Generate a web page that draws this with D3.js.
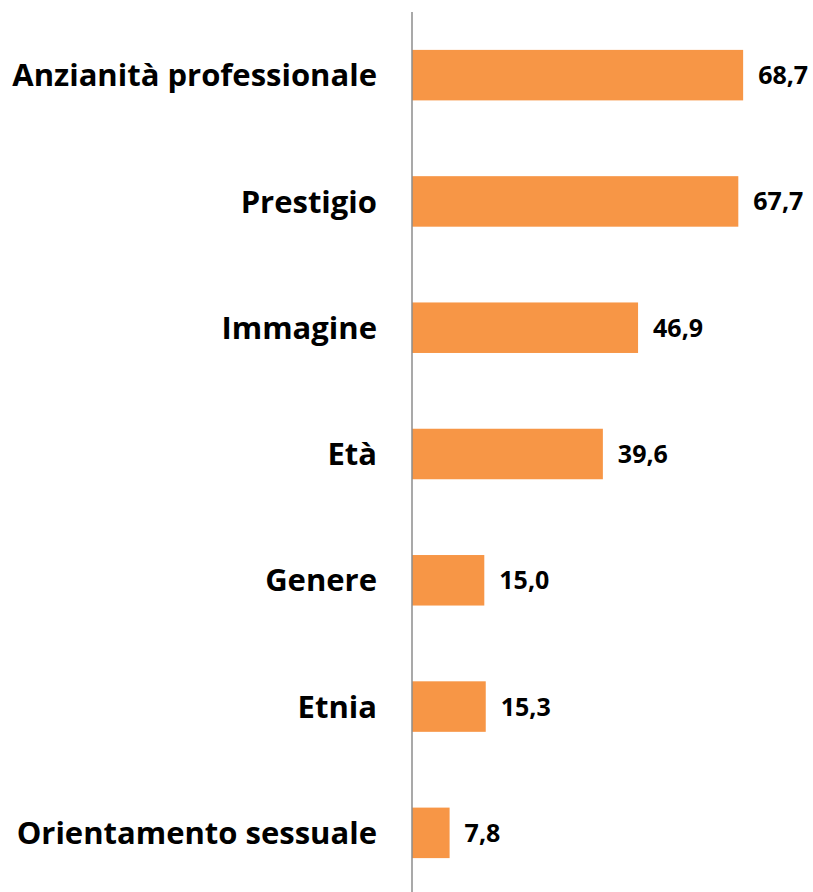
<!DOCTYPE html>
<html>
<head>
<meta charset="utf-8">
<script src="https://cdn.jsdelivr.net/npm/d3@7"></script>
<style>
  body { margin: 0; background: #fff; }
  svg { display: block; }
</style>
</head>
<body>
<svg id="chart"></svg>
<script>
var categories = ["Anzianità professionale", "Prestigio", "Immagine", "Età", "Genere", "Etnia", "Orientamento sessuale"];
var values = [68.7, 67.7, 46.9, 39.6, 15.0, 15.3, 7.8];

var width = 813, height = 892;
var x0 = 412;

var svg = d3.select("#chart").attr("width", width).attr("height", height);

var x = d3.scaleLinear().domain([0, 80]).range([x0, x0 + 385.6]);
var y = d3.scaleBand().domain(categories).range([12, 896]).paddingInner(0.6).paddingOuter(0.3);

var fmt = function (v) { return d3.format(".1f")(v).replace(".", ","); };

svg.append("g")
  .selectAll("rect")
  .data(values)
  .enter()
  .append("rect")
  .attr("x", x(0))
  .attr("y", function (d, i) { return y(categories[i]); })
  .attr("width", function (d) { return x(d) - x(0); })
  .attr("height", y.bandwidth())
  .style("fill", "#F79646");

// axis line
svg.append("line")
  .attr("x1", x0).attr("x2", x0)
  .attr("y1", 12).attr("y2", height)
  .style("stroke", "#8c8c8c")
  .style("stroke-width", 1.5);

svg.append("g")
  .selectAll("text")
  .data(categories)
  .enter()
  .append("text")
  .attr("x", 377)
  .attr("y", function (d) { return y(d) + y.bandwidth() / 2; })
  .attr("dy", "0.36em")
  .style("text-anchor", "end")
  .style("font-family", "'Open Sans', sans-serif")
  .style("font-weight", "bold")
  .style("font-size", "31px")
  .text(function (d) { return d; });

svg.append("g")
  .selectAll("text")
  .data(values)
  .enter()
  .append("text")
  .attr("x", function (d) { return x(d) + 15; })
  .attr("y", function (d, i) { return y(categories[i]) + y.bandwidth() / 2; })
  .attr("dy", "0.36em")
  .style("font-family", "'Open Sans', sans-serif")
  .style("font-weight", "bold")
  .style("font-size", "25px")
  .text(function (d) { return fmt(d); });
</script>
</body>
</html>
